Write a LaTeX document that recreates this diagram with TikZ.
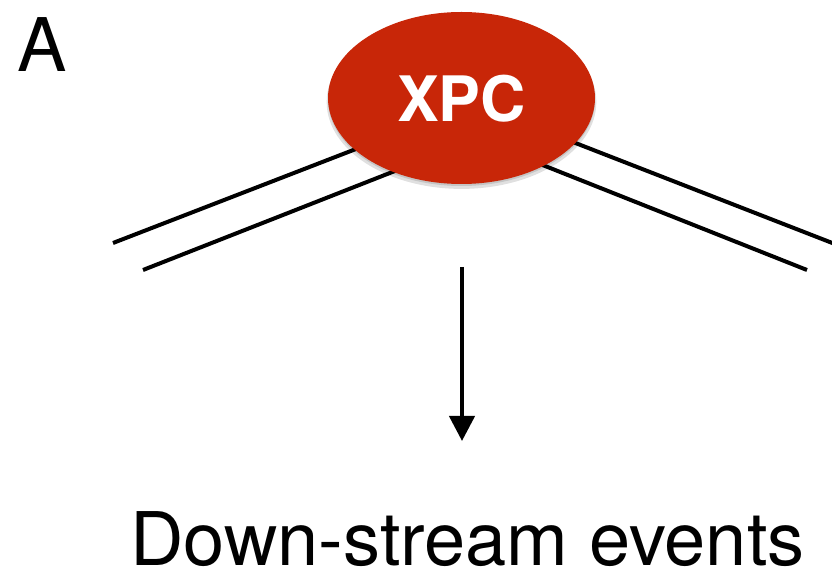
\documentclass[tikz,border=0pt]{standalone}
\usepackage{fontspec}
\setmainfont{TeX Gyre Heros}
\usetikzlibrary{arrows.meta,shapes.geometric,shadows}
\definecolor{xpcred}{RGB}{200,38,8}
\tikzset{
  strand/.style={line width=3pt, line cap=butt},
  xpcnode/.style={ellipse, fill=xpcred, draw=none, inner sep=0pt,
    minimum width=200.25pt, minimum height=129pt,
    general shadow={fill=black, opacity=0.12, shadow yshift=-3pt, shadow scale=1.01},
    general shadow={fill=black, opacity=0.12, shadow yshift=-1.5pt}},
  flow/.style={line width=3.2pt, -{Triangle[width=18.75pt,length=18.75pt]}},
  bigtext/.style={font=\fontsize{55.5pt}{60pt}\selectfont, inner sep=0pt, anchor=base}
}
\begin{document}
\begin{tikzpicture}[x=0.75pt, y=-0.75pt]
\useasboundingbox (0,0) rectangle (832,573);
% strands
\coordinate (lu1) at (113,243);
\coordinate (lu2) at (365,145.5);
\coordinate (ll1) at (143,270);
\coordinate (ll2) at (400,169);
\coordinate (ru1) at (560,137);
\coordinate (ru2) at (840,246);
\coordinate (rl1) at (535,162);
\coordinate (rl2) at (807,270);
\draw[strand] (lu1) -- (lu2);
\draw[strand] (ll1) -- (ll2);
\draw[strand] (ru1) -- (ru2);
\draw[strand] (rl1) -- (rl2);
% XPC
\node[xpcnode] (xpc) at (461.5,98) {};
\node[text=white, font=\bfseries\fontsize{47pt}{50pt}\selectfont, inner sep=0pt, anchor=base] (xpclabel) at (461.5,122) {XPC};
% panel label
\node[bigtext, anchor=base west] (panel) at (17,72) {A};
% arrow
\coordinate (arrstart) at (462,267);
\node[bigtext] (events) at (467.5,565) {Down-stream events};
\coordinate (arrend) at (462,441);
\draw[flow] (arrstart) -- (arrend);
\end{tikzpicture}
\end{document}
